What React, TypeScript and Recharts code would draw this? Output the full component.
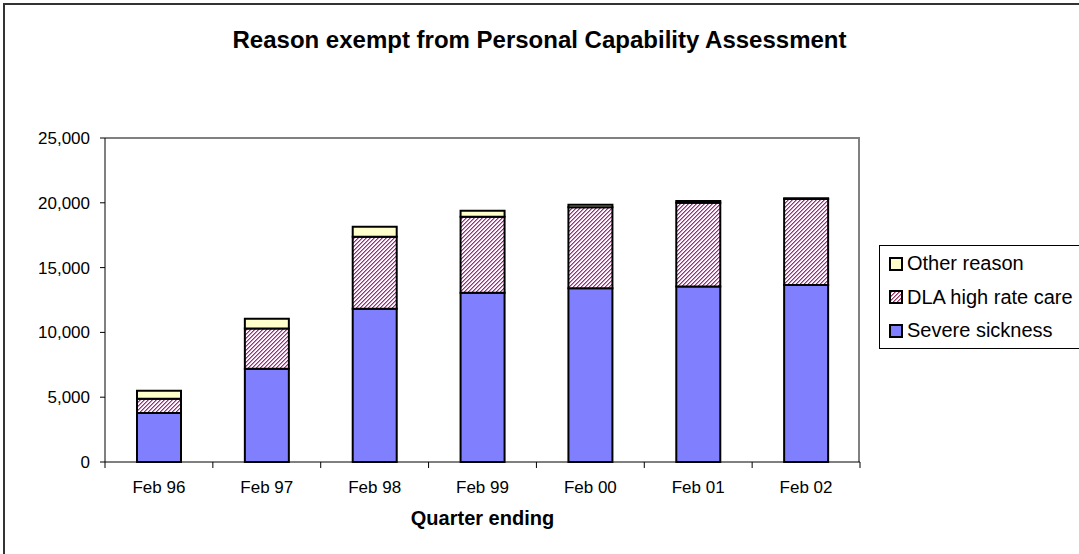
import { Bar, BarChart, XAxis, YAxis } from "recharts";

const quarters = ["Feb 96", "Feb 97", "Feb 98", "Feb 99", "Feb 00", "Feb 01", "Feb 02"];
const severeSickness = [3780, 7200, 11830, 13060, 13400, 13550, 13660];
const dlaHighRateCare = [1100, 3110, 5550, 5870, 6250, 6450, 6640];
const otherReason = [620, 750, 780, 460, 200, 140, 60];
const yTicks = [0, 5000, 10000, 15000, 20000, 25000];

const data = quarters.map((q, i) => ({
  quarter: q,
  severe: severeSickness[i],
  dla: dlaHighRateCare[i],
  other: otherReason[i],
}));

const font = "'Liberation Sans', Arial, sans-serif";
const plotLeft = 105;
const plotRight = 860;
const plotTop = 138;
const plotBottom = 462;
const band = (plotRight - plotLeft) / quarters.length;

const legendItems = [
  { label: "Other reason", fill: "#FFFFCC" },
  { label: "DLA high rate care", fill: "url(#dlaHatchLegend)" },
  { label: "Severe sickness", fill: "#8080FF" },
];

// pixel staircase, upward diagonal like Excel's pattern fill
const darkPixels = [[0, 3], [1, 2], [2, 1], [3, 0]];
const lightPixels = [[1, 3], [2, 2], [3, 1], [0, 0]];

function Hatch({ id }: { id: string }) {
  return (
    <pattern id={id} width={4} height={4} patternUnits="userSpaceOnUse">
      <rect width={4} height={4} fill="#ffffff" />
      {darkPixels.map(([px, py]) => (
        <rect key={`d${px}-${py}`} x={px} y={py} width={1} height={1} fill="#993366" shapeRendering="crispEdges" />
      ))}
      {lightPixels.map(([px, py]) => (
        <rect key={`l${px}-${py}`} x={px} y={py} width={1} height={1} fill="#cc88bb" shapeRendering="crispEdges" />
      ))}
    </pattern>
  );
}

function CategoryTick(props: any) {
  const { x, y, payload, index } = props;
  const left = x - band / 2;
  return (
    <g>
      <line x1={left} x2={left} y1={y} y2={y + 6} stroke="#000" />
      {index === quarters.length - 1 && (
        <line x1={x + band / 2} x2={x + band / 2} y1={y} y2={y + 6} stroke="#000" />
      )}
      <text x={x} y={y + 31} textAnchor="middle" fontSize={17} fontFamily={font} fill="#000">
        {payload.value}
      </text>
    </g>
  );
}

function LegendBox() {
  return (
    <div
      style={{
        position: "absolute",
        left: 879,
        top: 245,
        border: "1px solid #000",
        width: 230,
        height: 104,
        boxSizing: "border-box",
        paddingTop: 1,
        paddingLeft: 9,
        fontFamily: font,
        fontSize: 20,
        background: "#fff",
      }}
    >
      {legendItems.map((item) => (
        <div key={item.label} style={{ display: "flex", alignItems: "center", height: 33.5 }}>
          <svg width={14} height={14} style={{ marginRight: 4 }}>
            <defs>
              <Hatch id="dlaHatchLegend" />
            </defs>
            <rect x={1} y={1} width={12} height={12} fill={item.fill} stroke="#000" strokeWidth={2} />
          </svg>
          <span>{item.label}</span>
        </div>
      ))}
    </div>
  );
}

export default function App() {
  return (
    <div style={{ position: "relative", width: 1079, height: 554, overflow: "hidden", background: "#fff" }}>
      <style>{`body { margin: 0; }`}</style>
      <div
        style={{
          position: "absolute",
          left: 3,
          top: 3,
          width: 1200,
          height: 700,
          border: "2px solid #333",
        }}
      />
      <div
        style={{
          position: "absolute",
          left: 0,
          width: 1079,
          top: 26,
          textAlign: "center",
          fontFamily: font,
          fontWeight: "bold",
          fontSize: 24,
        }}
      >
        Reason exempt from Personal Capability Assessment
      </div>
      {/* plot area frame: top and right edges in grey */}
      <div
        style={{
          position: "absolute",
          left: plotLeft,
          top: plotTop - 1,
          width: plotRight - plotLeft,
          height: plotBottom - plotTop + 1,
          borderTop: "2px solid #808080",
          borderRight: "2px solid #808080",
          boxSizing: "border-box",
        }}
      />
      <BarChart
        width={1079}
        height={554}
        data={data}
        margin={{ top: plotTop, right: 1079 - plotRight, bottom: 0, left: 0 }}
        style={{ position: "absolute", left: 0, top: 0 }}
      >
        <defs>
          <Hatch id="dlaHatch" />
        </defs>
        <XAxis
          dataKey="quarter"
          height={554 - plotBottom}
          tickLine={false}
          tickSize={0}
          tickMargin={0}
          tick={<CategoryTick />}
          interval={0}
          axisLine={{ stroke: "#000" }}
          label={{
            value: "Quarter ending",
            position: "insideTop",
            offset: 49,
            style: { fontFamily: font, fontSize: 20, fontWeight: "bold", fill: "#000" },
          }}
        />
        <YAxis
          width={plotLeft}
          domain={[0, 25000]}
          ticks={yTicks}
          interval={0}
          tickSize={5}
          tickMargin={10}
          tickLine={{ stroke: "#000" }}
          axisLine={{ stroke: "#000" }}
          tickFormatter={(v: number) => v.toLocaleString("en-US")}
          tick={{ fontFamily: font, fontSize: 17, fill: "#000" }}
        />
        <Bar dataKey="severe" stackId="a" fill="#8080FF" stroke="#000" strokeWidth={2} barSize={44} isAnimationActive={false} />
        <Bar dataKey="dla" stackId="a" fill="url(#dlaHatch)" stroke="#000" strokeWidth={2} barSize={44} isAnimationActive={false} />
        <Bar dataKey="other" stackId="a" fill="#FFFFCC" stroke="#000" strokeWidth={2} barSize={44} isAnimationActive={false} />
      </BarChart>
      <LegendBox />
    </div>
  );
}
